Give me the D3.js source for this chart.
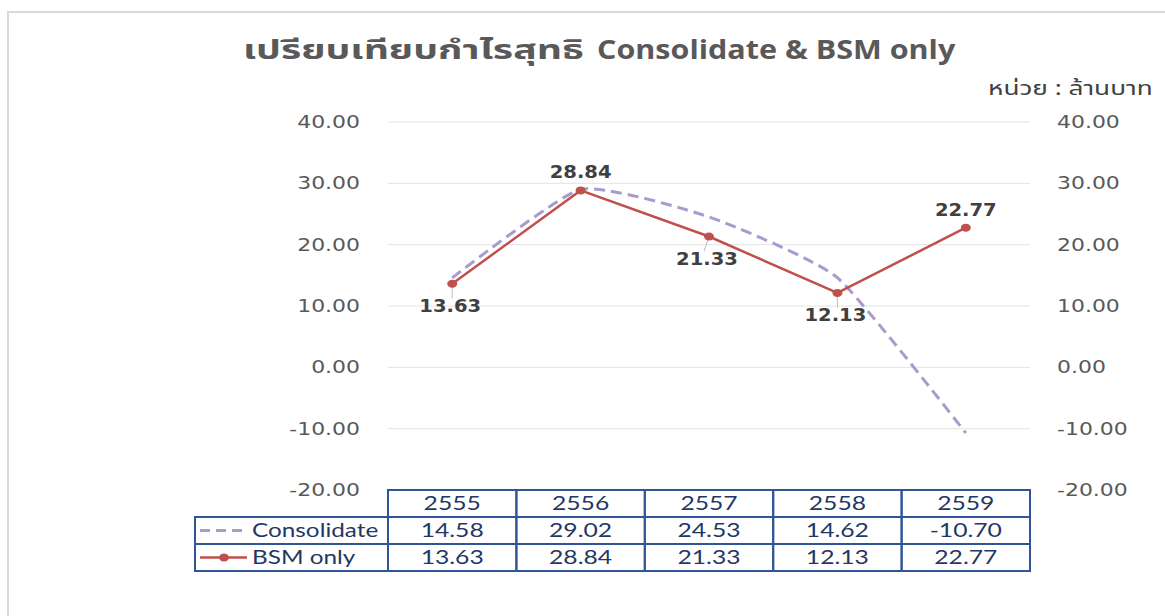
<!DOCTYPE html>
<html>
<head>
<meta charset="utf-8">
<script src="https://cdn.jsdelivr.net/npm/d3@7"></script>
<style>
  body { margin: 0; background: #fff; overflow: hidden; }
  svg { display: block; }
</style>
</head>
<body>
<div class="chart"></div>
<script>
// chart data
var years = ["2555", "2556", "2557", "2558", "2559"];
var consolidate = [14.58, 29.02, 24.53, 14.62, -10.70];
var bsmOnly = [13.63, 28.84, 21.33, 12.13, 22.77];
var yTicks = [-20, -10, 0, 10, 20, 30, 40];
var seriesNames = ["Consolidate", "BSM only"];
var titleThai = "เปรียบเทียบกำไรสุทธิ";
var titleLatin = "Consolidate & BSM only";
var unitLabel = "หน่วย : ล้านบาท";
// where each BSM label sits relative to its point
var labelSide = ["below", "above", "below", "below", "above"];

var svgWidth = 1165;
var svgHeight = 616;

var plot = { left: 388, right: 1030, top: 122, bottom: 490 };
var rowH = 27;
var tableLeft = 195;

var thaiFont = "'Noto Sans Thai', 'Leelawadee UI', Tahoma, sans-serif";
var titleFont = "'Open Sans', 'Noto Sans', sans-serif";
var axisFont = "'DejaVu Sans', Verdana, sans-serif";
var tableFont = "Lato, 'Open Sans', sans-serif";

var fmt = v => d3.format(".2f")(v).replace("\u2212", "-");

var svg = d3
  .select(".chart")
  .append("svg")
  .attr("width", svgWidth)
  .attr("height", svgHeight);

// the source picture is stretched sideways, so text gets a horizontal scale
function addText(parent, x, y, str, opts) {
  return parent.append("text")
    .attr("transform", `translate(${x}, ${y}) scale(${opts.sx || 1}, 1)`)
    .attr("dy", opts.dy || 0)
    .attr("text-anchor", opts.anchor || "start")
    .attr("font-family", opts.font)
    .attr("font-size", opts.size)
    .attr("font-weight", opts.weight || "normal")
    .attr("fill", opts.color)
    .text(str);
}

// outer frame (only left and top edges visible)
svg.append("path")
  .attr("d", "M8,616 V12 H1165")
  .attr("fill", "none")
  .attr("stroke", "#d9d9d9")
  .attr("stroke-width", 2);

// scales
var x = d3.scaleBand()
  .domain(years)
  .range([plot.left, plot.right]);

var y = d3.scaleLinear()
  .domain([-20, 40])
  .range([plot.bottom, plot.top]);

var cx = d => x(d) + x.bandwidth() / 2;

// title
addText(svg, 243, 59, titleThai, { font: thaiFont, size: 27, weight: "bold", color: "#595959", sx: 1.45 });
addText(svg, 597, 59, titleLatin, { font: titleFont, size: 27, weight: "bold", color: "#595959", sx: 1.13 });

// unit label
addText(svg, 988, 95, unitLabel, { font: thaiFont, size: 19, color: "#404040", sx: 1.38 });

// gridlines
svg.append("g")
  .selectAll("line")
  .data(yTicks.filter(t => t > -20))
  .enter()
  .append("line")
  .attr("x1", plot.left)
  .attr("x2", plot.right)
  .attr("y1", d => y(d))
  .attr("y2", d => y(d))
  .attr("stroke", "#e3e3e3")
  .attr("stroke-width", 1);

// y tick labels on both sides
var gTicks = svg.append("g");
yTicks.forEach(function(t) {
  addText(gTicks, 360, y(t), fmt(t), { font: axisFont, size: 18, color: "#595959", sx: 1.22, anchor: "end", dy: "0.33em" });
  addText(gTicks, 1057, y(t), fmt(t), { font: axisFont, size: 18, color: "#595959", sx: 1.22, anchor: "start", dy: "0.33em" });
});

// consolidate: smoothed dashed line
var smoothLine = d3.line()
  .x((d, i) => cx(years[i]))
  .y(d => y(d))
  .curve(d3.curveCardinal.tension(0.5));

svg.append("path")
  .datum(consolidate)
  .attr("d", smoothLine)
  .attr("fill", "none")
  .attr("stroke", "#a99bcc")
  .attr("stroke-width", 3)
  .attr("stroke-dasharray", "11,6");

// bsm only: straight line with markers
var straightLine = d3.line()
  .x((d, i) => cx(years[i]))
  .y(d => y(d));

// leader lines for labels below the points
svg.append("g")
  .selectAll("line")
  .data(bsmOnly.map((v, i) => ({ v: v, i: i })).filter(d => labelSide[d.i] === "below"))
  .enter()
  .append("line")
  .attr("x1", d => cx(years[d.i]))
  .attr("y1", d => y(d.v))
  .attr("x2", d => cx(years[d.i]) - (d.i === 2 ? 5 : 0))
  .attr("y2", d => y(d.v) + 15)
  .attr("stroke", "#bfbfbf")
  .attr("stroke-width", 1);

svg.append("path")
  .datum(bsmOnly)
  .attr("d", straightLine)
  .attr("fill", "none")
  .attr("stroke", "#c0504d")
  .attr("stroke-width", 2.5);

svg.append("g")
  .selectAll("ellipse")
  .data(bsmOnly)
  .enter()
  .append("ellipse")
  .attr("cx", (d, i) => cx(years[i]))
  .attr("cy", d => y(d))
  .attr("rx", 5)
  .attr("ry", 4)
  .attr("fill", "#c0504d");

// data labels
var gLabels = svg.append("g");
bsmOnly.forEach(function(v, i) {
  var below = labelSide[i] === "below";
  addText(gLabels, cx(years[i]) - (below ? 2 : 0), y(v) + (below ? 28 : -12), fmt(v),
    { font: axisFont, size: 17, weight: "bold", color: "#404040", sx: 1.15, anchor: "middle" });
});

// data table
var table = svg.append("g");
var tableRows = [consolidate, bsmOnly];
var borderColor = "#2f5597";
var textColor = "#1f3864";
var cellOpts = { font: tableFont, size: 19, color: textColor, sx: 1.3, anchor: "middle", dy: "0.36em" };

// header cells
table.selectAll(".hdr")
  .data(years)
  .enter()
  .append("rect")
  .attr("class", "hdr")
  .attr("x", d => x(d))
  .attr("y", plot.bottom)
  .attr("width", x.bandwidth())
  .attr("height", rowH)
  .attr("fill", "none")
  .attr("stroke", borderColor)
  .attr("stroke-width", 2);

years.forEach(function(yr) {
  addText(table, cx(yr), plot.bottom + rowH / 2, yr, cellOpts);
});

tableRows.forEach(function(row, r) {
  var top = plot.bottom + rowH * (r + 1);

  // series name cell
  table.append("rect")
    .attr("x", tableLeft)
    .attr("y", top)
    .attr("width", plot.left - tableLeft)
    .attr("height", rowH)
    .attr("fill", "none")
    .attr("stroke", borderColor)
    .attr("stroke-width", 2);

  table.selectAll(".cell" + r)
    .data(row)
    .enter()
    .append("rect")
    .attr("class", "cell" + r)
    .attr("x", (d, i) => x(years[i]))
    .attr("y", top)
    .attr("width", x.bandwidth())
    .attr("height", rowH)
    .attr("fill", "none")
    .attr("stroke", borderColor)
    .attr("stroke-width", 2);

  row.forEach(function(v, i) {
    addText(table, cx(years[i]), top + rowH / 2, fmt(v), cellOpts);
  });

  // legend key
  var ky = top + rowH / 2;
  if (r === 0) {
    table.append("line")
      .attr("x1", 200).attr("x2", 247)
      .attr("y1", ky).attr("y2", ky)
      .attr("stroke", "#a99bcc")
      .attr("stroke-width", 3)
      .attr("stroke-dasharray", "10,6");
  } else {
    table.append("line")
      .attr("x1", 200).attr("x2", 247)
      .attr("y1", ky).attr("y2", ky)
      .attr("stroke", "#c0504d")
      .attr("stroke-width", 2.5);
    table.append("ellipse")
      .attr("cx", 224).attr("cy", ky)
      .attr("rx", 5).attr("ry", 4)
      .attr("fill", "#c0504d");
  }

  addText(table, 252, ky, seriesNames[r], { font: tableFont, size: 19, color: textColor, sx: 1.28, dy: "0.36em" });
});
</script>
</body>
</html>
